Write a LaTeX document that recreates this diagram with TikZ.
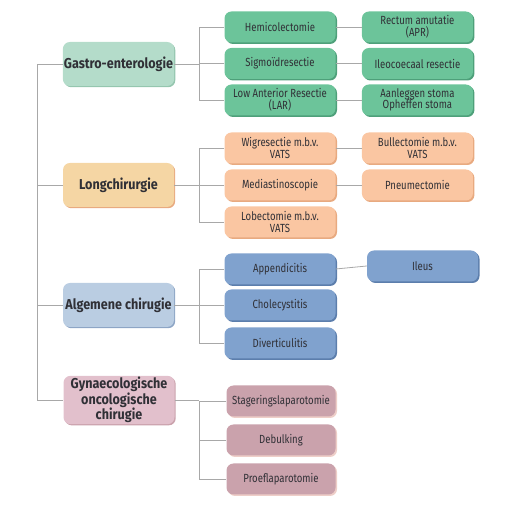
\documentclass[tikz,border=0pt]{standalone}
\usepackage{fontspec}
\setmainfont[FakeStretch=0.81]{Fira Sans}
\newfontfamily\headfont[FakeStretch=0.88]{Fira Sans}
\usetikzlibrary{positioning,shadows}
\definecolor{ink}{RGB}{48,48,54}
\definecolor{wire}{RGB}{168,168,168}
\definecolor{mintlight}{RGB}{180,220,202}
\definecolor{mint}{RGB}{108,196,154}
\definecolor{mintdark}{RGB}{78,160,122}
\definecolor{peachlight}{RGB}{245,214,164}
\definecolor{peach}{RGB}{250,198,162}
\definecolor{peachdark}{RGB}{232,170,128}
\definecolor{skylight}{RGB}{186,205,226}
\definecolor{sky}{RGB}{128,162,206}
\definecolor{skydark}{RGB}{92,126,172}
\definecolor{roselight}{RGB}{226,192,204}
\definecolor{rose}{RGB}{202,162,172}
\definecolor{rosedark}{RGB}{238,206,200}
\begin{document}
\begin{tikzpicture}[x=1pt,y=1pt,font=\fontsize{11.8}{11.5}\selectfont,text=ink,
  card/.style={rectangle,rounded corners=7pt,align=center,inner sep=1pt},
  main/.style={card,minimum width=111pt,minimum height=44pt,font=\headfont\fontsize{14.3}{13.5}\selectfont\bfseries},
  sub/.style={card,minimum width=111pt,minimum height=31pt},
  gmain/.style={main,fill=mintlight,general shadow={fill=mintdark!60,shadow xshift=1.2pt,shadow yshift=-1.2pt}},
  gsub/.style={sub,fill=mint,general shadow={fill=mintdark,shadow xshift=1.5pt,shadow yshift=-1.5pt}},
  lmain/.style={main,fill=peachlight,general shadow={fill=peachdark,shadow xshift=1.2pt,shadow yshift=-1.2pt}},
  lsub/.style={sub,fill=peach,general shadow={fill=peachdark,shadow xshift=1.5pt,shadow yshift=-1.5pt}},
  amain/.style={main,fill=skylight,general shadow={fill=skydark!70,shadow xshift=1.2pt,shadow yshift=-1.2pt}},
  asub/.style={sub,fill=sky,general shadow={fill=skydark,shadow xshift=1.5pt,shadow yshift=-1.5pt}},
  rmain/.style={main,fill=roselight,general shadow={fill=rose,shadow xshift=1.2pt,shadow yshift=-1.2pt}},
  rsub/.style={sub,fill=rose,general shadow={fill=rosedark,shadow xshift=1.5pt,shadow yshift=-1.5pt}},
  link/.style={wire,line width=0.8pt}]
  \useasboundingbox (0,0) rectangle (506,516);
  \coordinate (tr) at (37,0);
  \coordinate (br) at (199,0);
  % specialismen
  \node[gmain] (gastro) at (118.5,452) {Gastro-enterologie};
  \node[lmain] (long) at (118.5,331) {Longchirurgie};
  \node[amain] (alg) at (118.5,211) {Algemene chirugie};
  \node[rmain] (gyn) at (119,116) {Gynaecologische\\oncologische\\chirugie};
  % gastro-enterologie
  \node[gsub] (hemi) at (280,489) {Hemicolectomie};
  \node[gsub] (sigmo) at (280,452.5) {Sigmo\"idresectie};
  \node[gsub] (lar) at (280,416) {Low Anterior Resectie\\(LAR)};
  \node[gsub,right=26pt of hemi] (rect) {Rectum amutatie\\(APR)};
  \node[gsub,right=26pt of sigmo] (ileo) {Ileocoecaal resectie};
  \node[gsub,right=26pt of lar] (stoma) {Aanleggen stoma\\Opheffen stoma};
  % longchirurgie
  \node[lsub] (wig) at (280,368) {Wigresectie m.b.v.\\VATS};
  \node[lsub] (med) at (280,331) {Mediastinoscopie};
  \node[lsub] (lob) at (280,294) {Lobectomie m.b.v.\\VATS};
  \node[lsub,right=26pt of wig] (bull) {Bullectomie m.b.v.\\VATS};
  \node[lsub,right=26pt of med] (pneu) {Pneumectomie};
  % algemene chirurgie
  \node[asub] (app) at (280,247) {Appendicitis};
  \node[asub] (chol) at (280,211) {Cholecystitis};
  \node[asub] (div) at (280,173) {Diverticulitis};
  \node[asub] (ileus) at (422.5,250) {Ileus};
  % gynaecologie
  \node[rsub,minimum width=109pt] (stag) at (281,115) {Stageringslaparotomie};
  \node[rsub,minimum width=109pt] (deb) at (281,76) {Debulking};
  \node[rsub,minimum width=109pt] (proef) at (281,37) {Proeflaparotomie};
  % verbindingen
  \draw[link] (gastro.west) -| (tr |- gyn.west) -- (gyn.west);
  \draw[link] (long.west) -- (long.west -| tr);
  \draw[link] (alg.west) -- (alg.west -| tr);
  \foreach \p/\a/\b/\c in {gastro/hemi/sigmo/lar,long/wig/med/lob,alg/app/chol/div,gyn/stag/deb/proef}{
    \draw[link] (\p.east) -- (\p.east -| br);
    \draw[link] (\a.west) -| (br |- \c.west) -- (\c.west);
    \draw[link] (\b.west) -- (\b.west -| br);
  }
  \foreach \a/\b in {hemi/rect,sigmo/ileo,lar/stoma,wig/bull,med/pneu,app/ileus}
    \draw[link] (\a.east) -- (\b.west);
\end{tikzpicture}
\end{document}
